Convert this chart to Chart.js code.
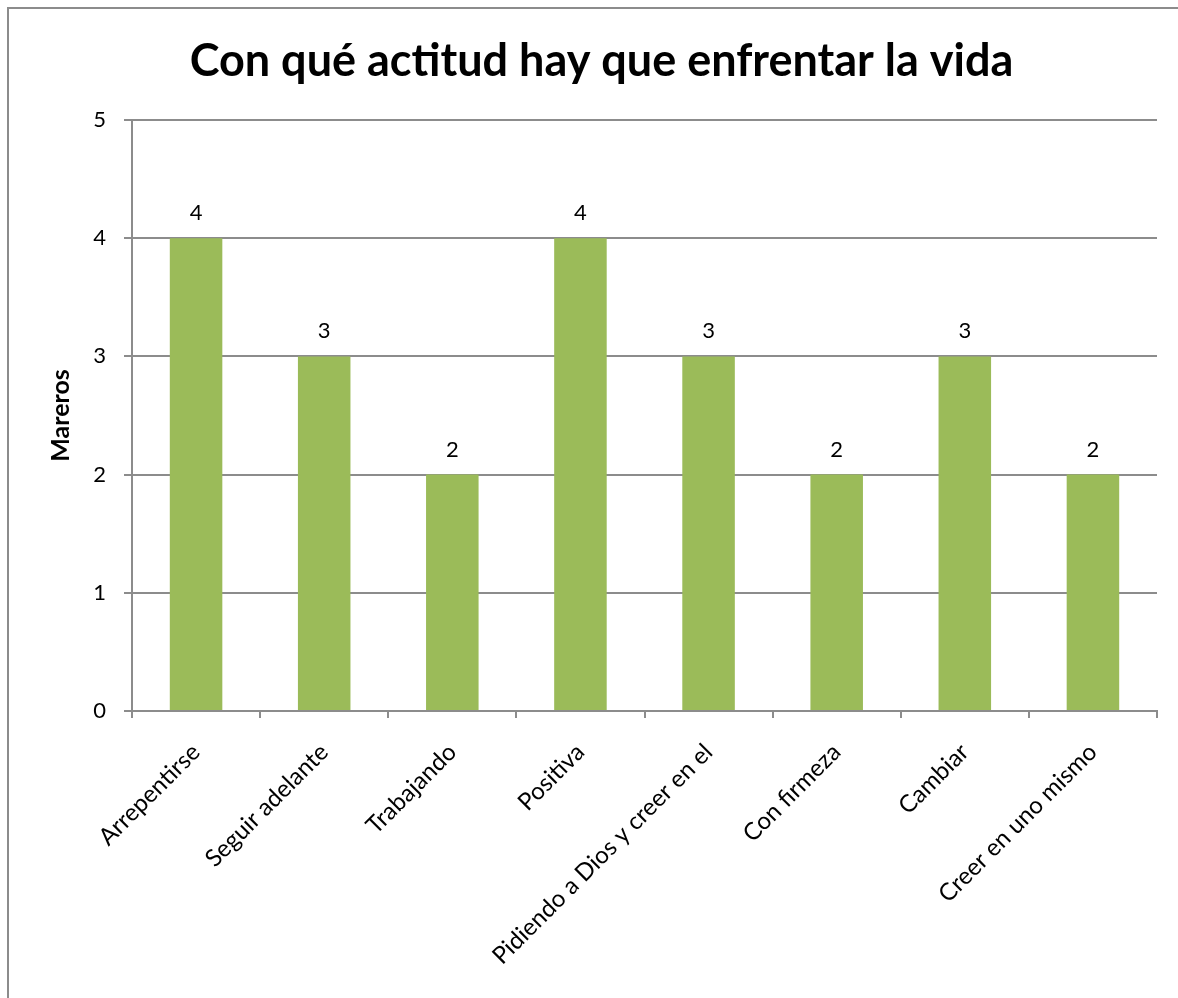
<!DOCTYPE html>
<html lang="es">
<head>
<meta charset="utf-8">
<title>Con qué actitud hay que enfrentar la vida</title>
<script src="https://cdn.jsdelivr.net/npm/chart.js@4/dist/chart.umd.min.js"></script>
<style>
    html, body { margin: 0; padding: 0; background: #fff; overflow: hidden; }
    #marco {
        position: absolute; left: 7px; top: 7px; width: 1400px; height: 1200px;
        border-left: 2px solid #8c8c8c; border-top: 2px solid #8c8c8c;
    }
    #grafico { position: absolute; left: 0; top: 0; }
</style>
</head>
<body>
<div id="marco"></div>
<canvas id="grafico" width="1178" height="998"></canvas>
<script>
// Datos de la encuesta
const categorias = ['Arrepentirse', 'Seguir adelante', 'Trabajando', 'Positiva',
    'Pidiendo a Dios y creer en el', 'Con firmeza', 'Cambiar', 'Creer en uno mismo'];
const mareros = [4, 3, 2, 4, 3, 2, 3, 2];
const marcasY = [0, 1, 2, 3, 4, 5];

const fuente = 'Lato, "Open Sans", sans-serif';
const gris = '#8c8c8c';

// Escribe el valor encima de cada barra
const etiquetasValor = {
    id: 'etiquetasValor',
    afterDatasetsDraw(chart) {
        const ctx = chart.ctx;
        const meta = chart.getDatasetMeta(0);
        ctx.save();
        ctx.font = '22px ' + fuente;
        ctx.fillStyle = '#000';
        ctx.textAlign = 'center';
        ctx.textBaseline = 'middle';
        meta.data.forEach((barra, i) => {
            ctx.fillText(String(mareros[i]), barra.x, barra.y - 25);
        });
        ctx.restore();
    }
};

const ctx = document.getElementById('grafico').getContext('2d');
new Chart(ctx, {
    type: 'bar',
    data: {
        labels: categorias,
        datasets: [{
            label: 'Mareros',
            data: mareros,
            backgroundColor: '#9bbb59',
            borderWidth: 0,
            barPercentage: 0.41,
            categoryPercentage: 1
        }]
    },
    options: {
        responsive: false,
        animation: false,
        devicePixelRatio: 1,
        layout: { padding: { left: 46, right: 21, top: 0, bottom: 0 } },
        plugins: {
            legend: { display: false },
            tooltip: { enabled: false },
            title: {
                display: true,
                text: 'Con qué actitud hay que enfrentar la vida',
                color: '#000',
                font: { family: fuente, size: 45, weight: 'bold' },
                padding: { top: 34, bottom: 32 }
            }
        },
        scales: {
            y: {
                min: 0,
                max: 5,
                afterFit(scale) { scale.width = 86; },
                afterBuildTicks(scale) { scale.ticks = marcasY.map(v => ({ value: v })); },
                ticks: {
                    color: '#000',
                    padding: 18,
                    font: { family: fuente, size: 22 }
                },
                grid: { color: gris, lineWidth: 2, tickLength: 8 },
                border: { color: gris, width: 2 },
                title: {
                    display: true,
                    text: 'Mareros',
                    color: '#000',
                    font: { family: fuente, size: 25, weight: 'bold' },
                    padding: 0
                }
            },
            x: {
                afterFit(scale) { scale.height = 287; },
                ticks: {
                    color: '#000',
                    autoSkip: false,
                    minRotation: 45,
                    maxRotation: 45,
                    padding: 20,
                    font: { family: fuente, size: 24 }
                },
                grid: { offset: true, drawOnChartArea: false, color: gris, lineWidth: 2, tickLength: 7 },
                border: { color: gris, width: 2 }
            }
        }
    },
    plugins: [etiquetasValor]
});
</script>
</body>
</html>
